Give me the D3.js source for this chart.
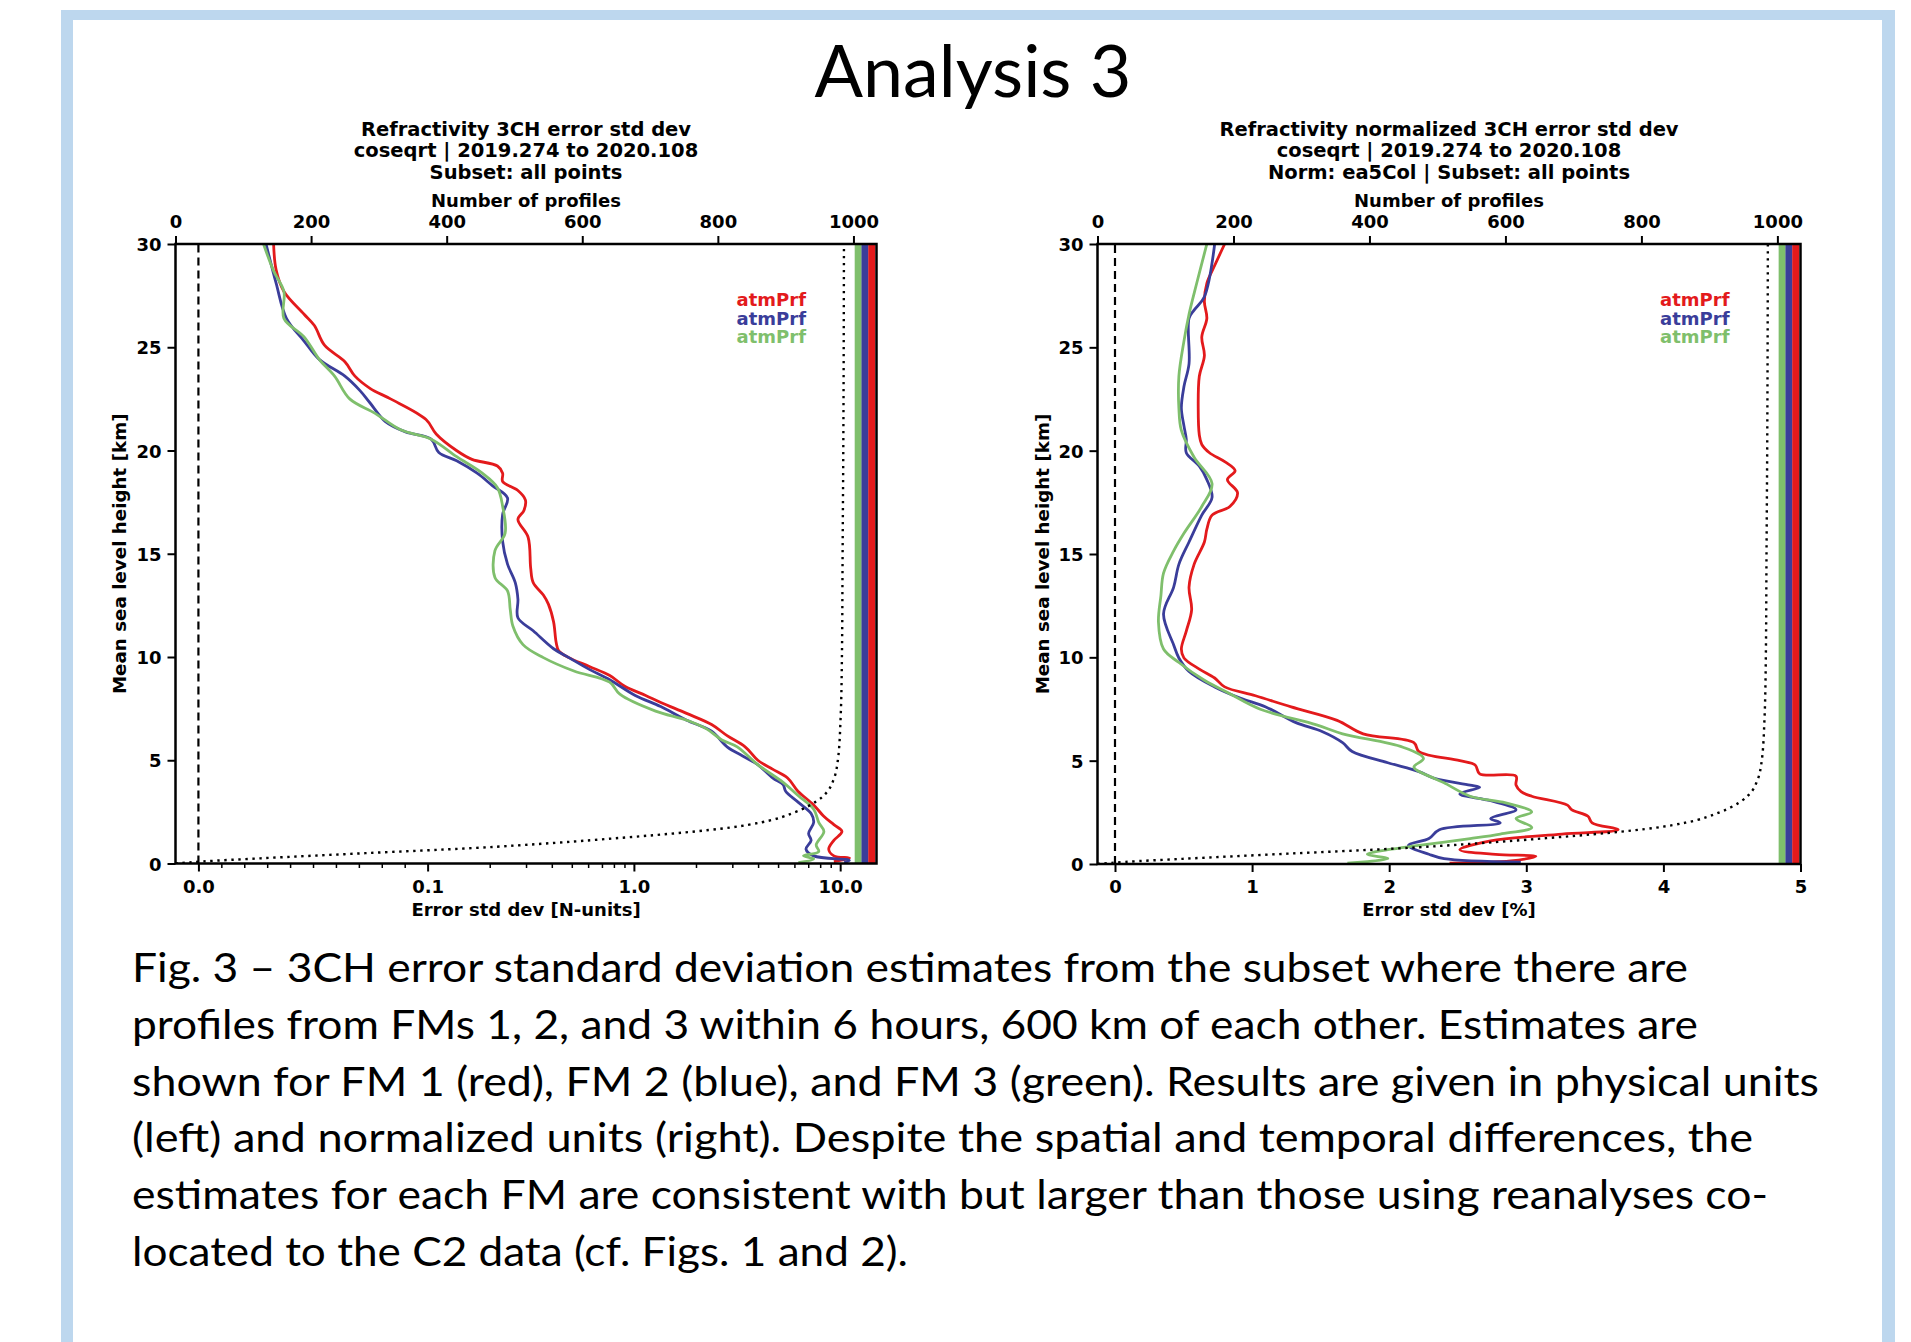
<!DOCTYPE html>
<html><head><meta charset="utf-8">
<script src="https://cdn.jsdelivr.net/npm/d3@7"></script>
<style>html,body{margin:0;padding:0;background:#fff;} svg{display:block;}</style>
</head><body>
<svg id="c" width="1911" height="1342"></svg>
<script>
// ---------------- DATA ----------------
const seriesNames = ["atmPrf", "atmPrf", "atmPrf"];   // FM1 (red), FM2 (blue), FM3 (green)
const yTicks = [0, 5, 10, 15, 20, 25, 30];
const profTicks = [0, 200, 400, 600, 800, 1000];
const leftXTicks = [0, 0.1, 1, 10];
const leftXTickLabels = ["0.0", "0.1", "1.0", "10.0"];
const leftXMinorTicks = [0.01,0.02,0.03,0.04,0.05,0.06,0.07,0.08,0.09,0.2,0.3,0.4,0.5,0.6,0.7,0.8,0.9,2,3,4,5,6,7,8,9];
const rightXTicks = [0, 1, 2, 3, 4, 5];

// Left panel: error std dev [N-units]
const leftRedH = [30,28.75,27.7,26.6,26.05,25.1,24.3,23.6,23.0,22.5,21.5,20.8,20.0,19.57,19.25,18.9,18.5,18.06,17.6,17.1,16.66,15.8,14.3,13.6,13.0,12.56,11.7,10.7,10.3,9.97,9.54,9.1,8.57,8.14,7.8,7.27,6.73,6.19,5.65,5.0,4.57,4.14,3.5,2.85,2.3,1.88,1.55,1.12,0.69,0.37,0.26,0.09];
const leftRedV = [0.0328,0.0339,0.0373,0.0461,0.0506,0.055,0.0639,0.0683,0.075,0.0838,0.0993,0.110,0.138,0.164,0.218,0.231,0.231,0.274,0.298,0.293,0.274,0.307,0.316,0.325,0.364,0.385,0.408,0.42,0.432,0.484,0.608,0.764,0.907,1.14,1.35,1.80,2.38,2.83,3.46,3.99,4.7,5.56,6.24,7.42,8.3,9.32,10.2,9.32,8.8,9.32,11.1,9.32];
const leftBlueH = [30,28.1,26.4,25.3,24.4,23.6,22.9,22.3,21.4,20.9,20.55,19.9,19.5,18.9,18.3,17.7,16.9,15.6,14.5,13.6,12.8,11.9,11.27,10.4,9.97,9.4,8.9,8.14,7.6,6.95,6.41,5.65,5.22,4.79,4.14,3.82,3.5,2.96,2.42,1.99,1.45,1.12,0.69,0.37,0.15,0.04];
const leftBlueV = [0.0295,0.0339,0.0384,0.0461,0.0528,0.0639,0.0705,0.0749,0.0816,0.0904,0.104,0.1133,0.1383,0.1738,0.206,0.244,0.231,0.231,0.244,0.266,0.274,0.274,0.325,0.408,0.484,0.608,0.763,1.015,1.349,1.792,2.38,2.83,3.35,3.98,4.72,5.29,5.44,6.27,7.23,7.44,7.03,7.23,6.83,7.44,11.08,10.46];
const leftGreenH = [30,28.7,27.7,26.4,25.5,24.4,23.6,22.5,21.8,21.0,20.55,19.7,18.9,18.2,17.3,16.0,15.15,13.85,13.2,12.3,11.5,10.6,9.97,9.32,8.78,8.2,7.38,6.95,6.52,5.98,5.65,4.79,3.93,3.28,2.63,1.99,1.55,0.9,0.58,0.37,0.22,0.04];
const leftGreenV = [0.0284,0.0328,0.0373,0.0373,0.0461,0.0528,0.0594,0.066,0.0771,0.0882,0.104,0.1383,0.184,0.218,0.231,0.2375,0.212,0.212,0.244,0.2515,0.259,0.29,0.364,0.512,0.763,0.855,1.274,1.792,2.25,2.67,3.17,3.98,5.29,6.27,7.44,7.87,8.34,7.65,7.87,6.64,7.44,6.27];

// Right panel: normalized error std dev [%]
const rightRedH = [30,28.96,28.1,27.2,26.4,25.5,24.6,23.6,22.06,20.76,20.3,19.9,19.47,19.03,18.6,17.96,17.3,16.88,16.2,15.58,14.5,13.4,12.3,11.27,10.4,9.97,9.43,9.0,8.57,8.14,7.6,6.95,6.3,5.87,5.44,5.0,4.79,4.36,4.25,3.82,3.5,3.28,2.85,2.63,2.31,1.99,1.66,1.45,1.12,0.69,0.47,0.37,0.15,0.04];
const rightRedV = [0.80,0.727,0.67,0.652,0.67,0.633,0.652,0.615,0.607,0.615,0.633,0.689,0.80,0.876,0.82,0.894,0.838,0.708,0.67,0.652,0.577,0.54,0.559,0.52,0.484,0.503,0.615,0.727,0.80,1.025,1.285,1.62,1.81,2.18,2.217,2.515,2.627,2.66,2.925,2.925,2.962,3.04,3.3,3.33,3.45,3.48,3.67,3.26,2.74,2.515,2.776,3.07,2.887,2.44];
const rightBlueH = [30,27.45,26.8,26.4,24.2,23.1,22.06,21.2,20.55,19.9,19.25,18.6,17.74,16.88,15.58,14.5,13.4,12.1,10.6,9.97,9.32,8.57,8.03,7.6,6.84,6.41,5.87,5.44,4.9,4.47,4.14,3.82,3.71,3.39,3.06,2.63,2.2,1.99,1.66,1.23,0.9,0.47,0.26,0.09];
const rightBlueV = [0.727,0.652,0.577,0.54,0.54,0.503,0.484,0.503,0.52,0.52,0.615,0.67,0.708,0.633,0.54,0.466,0.428,0.354,0.428,0.466,0.54,0.727,0.913,1.10,1.32,1.51,1.66,1.73,1.99,2.217,2.33,2.59,2.66,2.515,2.74,2.925,2.74,2.81,2.366,2.29,2.14,2.29,2.40,2.96];
const rightGreenH = [30,28.1,26.6,25.3,23.6,22.06,20.98,19.68,18.4,17.3,16.0,15.15,14.07,12.99,11.7,10.4,9.75,8.89,8.24,7.49,6.73,6.3,5.65,5.11,4.68,4.14,3.93,3.28,2.96,2.52,2.2,1.77,1.45,1.23,0.9,0.69,0.47,0.26,0.04];
const rightGreenV = [0.67,0.596,0.54,0.503,0.466,0.466,0.484,0.577,0.708,0.633,0.503,0.428,0.354,0.335,0.317,0.354,0.466,0.652,0.838,1.06,1.47,1.66,2.1,2.25,2.18,2.33,2.40,2.59,2.85,3.04,2.925,3.04,2.81,2.59,2.217,1.99,1.84,1.99,1.695];

// Number of profiles (common subset, dotted) vs height
const profHeights = [0,0.1,0.25,0.5,0.75,1.0,1.25,1.5,1.75,2.0,2.5,3.0,3.5,4.0,5.0,7.0,10,15,20,30];
const profCounts  = [0,40,125,280,440,560,660,750,820,865,915,945,962,970,977,981,983,984,985,986];
// Number of profiles per FM (red, blue, green)
const fmCounts = [1027, 1017, 1007];

const captionLines = [
  "Fig. 3 \u2013 3CH error standard deviation estimates from the subset where there are",
  "profiles from FMs 1, 2, and 3 within 6 hours, 600 km of each other. Estimates are",
  "shown for FM 1 (red), FM 2 (blue), and FM 3 (green). Results are given in physical units",
  "(left) and normalized units (right). Despite the spatial and temporal differences, the",
  "estimates for each FM are consistent with but larger than those using reanalyses co-",
  "located to the C2 data (cf. Figs. 1 and 2)."
];

// ---------------- STYLE / LAYOUT ----------------
const COLORS = ["#e31a1c", "#3a3d9a", "#7fbf6c"];
const FONT = "'DejaVu Sans', sans-serif";
const svg = d3.select("#c");

// frame
const frameColor = "#bdd7ee";
svg.append("rect").attr("x", 61).attr("y", 10).attr("width", 1834).attr("height", 10).attr("fill", frameColor);
svg.append("rect").attr("x", 61).attr("y", 10).attr("width", 12).attr("height", 1332).attr("fill", frameColor);
svg.append("rect").attr("x", 1882).attr("y", 10).attr("width", 13).attr("height", 1332).attr("fill", frameColor);

svg.append("text").attr("x", 973).attr("y", 97).attr("text-anchor", "middle")
  .attr("font-family", "Lato, 'Open Sans', sans-serif").attr("font-size", 72)
  .attr("textLength", 317).attr("lengthAdjust", "spacingAndGlyphs")
  .text("Analysis 3");

const capWidths = [1556, 1566, 1687, 1621, 1636, 776];
captionLines.forEach((t, i) => {
  svg.append("text").attr("x", 132).attr("y", 982 + i * 56.8)
    .attr("font-family", "Lato, 'Open Sans', sans-serif").attr("font-size", 41)
    .attr("textLength", capWidths[i]).attr("lengthAdjust", "spacingAndGlyphs")
    .text(t);
});

// custom matplotlib-like symlog scale (linthresh, linscale) built on d3.scaleLinear
function makeSymlog(domain, range, linthresh, linscale) {
  const adj = linscale / (1 - 1 / 10);
  const T = v => { const a = Math.abs(v); return a <= linthresh ? v / linthresh * adj : Math.sign(v) * (adj + Math.log10(a / linthresh)); };
  const lin = d3.scaleLinear().domain(domain.map(T)).range(range);
  function s(v) { return lin(T(v)); }
  s.domain = () => domain.slice();
  s.range = () => range.slice();
  s.copy = () => makeSymlog(domain, range, linthresh, linscale);
  return s;
}

function styleAxis(g, size) {
  g.select(".domain").remove();
  g.selectAll(".tick line").attr("stroke", "#000").attr("stroke-width", size || 2);
  g.selectAll(".tick text").attr("fill", "#000").attr("font-family", FONT)
    .attr("font-weight", "bold").attr("font-size", 18);
}

function drawPanel(p) {
  const g = svg.append("g");
  const y = d3.scaleLinear().domain([0, 30]).range([p.y1, p.y0]);
  const xTop = d3.scaleLinear().domain([0, 1034]).range([p.x0, p.x1]);
  const x = p.x;
  const clipId = "clip" + p.id;
  svg.append("clipPath").attr("id", clipId).append("rect")
    .attr("x", p.x0).attr("y", p.y0).attr("width", p.x1 - p.x0).attr("height", p.y1 - p.y0);
  const plot = g.append("g").attr("clip-path", `url(#${clipId})`);

  // zero dashed line
  plot.append("line").attr("x1", x(0)).attr("x2", x(0)).attr("y1", y(0)).attr("y2", y(30))
    .attr("stroke", "#000").attr("stroke-width", 2.2).attr("stroke-dasharray", "8,5");

  // error std dev curves
  const line = d3.line().x(d => x(d[1])).y(d => y(d[0])).curve(d3.curveCatmullRom.alpha(0.5));
  p.series.forEach((s, i) => {
    plot.append("path").datum(d3.zip(s[0], s[1])).attr("d", line)
      .attr("fill", "none").attr("stroke", COLORS[i]).attr("stroke-width", 2.8)
      .attr("stroke-linejoin", "round");
  });

  // number of profiles (twin axis)
  const pline = d3.line().x(d => xTop(d[1])).y(d => y(d[0])).curve(d3.curveMonotoneY);
  plot.append("path").datum(d3.zip(profHeights, profCounts)).attr("d", pline)
    .attr("fill", "none").attr("stroke", "#000").attr("stroke-width", 2.4)
    .attr("stroke-dasharray", "2.4,4.6");
  [2, 1, 0].forEach(i => {
    plot.append("line").attr("x1", xTop(fmCounts[i])).attr("x2", xTop(fmCounts[i]))
      .attr("y1", y(0)).attr("y2", y(30)).attr("stroke", COLORS[i]).attr("stroke-width", 7);
  });

  // legend
  seriesNames.forEach((n, i) => {
    g.append("text").attr("x", p.legendX).attr("y", [299.7, 318.4, 336.7][i])
      .attr("text-anchor", "end").attr("dominant-baseline", "central")
      .attr("font-family", FONT).attr("font-weight", "bold").attr("font-size", 18)
      .attr("fill", COLORS[i]).text(n);
  });

  // axes
  const ay = g.append("g").attr("transform", `translate(${p.x0},0)`)
    .call(d3.axisLeft(y).tickValues(yTicks).tickSize(8).tickPadding(6));
  styleAxis(ay);
  ay.selectAll(".tick text").attr("dy", null).attr("dominant-baseline", "central");

  const at = g.append("g").attr("transform", `translate(0,${p.y0})`)
    .call(d3.axisTop(xTop).tickValues(profTicks).tickSize(8).tickFormat(d3.format("d")));
  styleAxis(at);
  at.selectAll(".tick text").attr("y", -22.3).attr("dy", null).attr("dominant-baseline", "central");

  const ab = g.append("g").attr("transform", `translate(0,${p.y1})`)
    .call(d3.axisBottom(x).tickValues(p.xTicks).tickSize(8).tickFormat((d, i) => p.xTickLabels[i]));
  styleAxis(ab);
  ab.selectAll(".tick text").attr("y", 22.5).attr("dy", null).attr("dominant-baseline", "central");

  if (p.minor) {
    const am = g.append("g").attr("transform", `translate(0,${p.y1})`)
      .call(d3.axisBottom(x).tickValues(p.minor).tickSize(4.5).tickFormat(""));
    styleAxis(am, 1.5);
  }

  // spines
  g.append("rect").attr("x", p.x0).attr("y", p.y0).attr("width", p.x1 - p.x0).attr("height", p.y1 - p.y0)
    .attr("fill", "none").attr("stroke", "#000").attr("stroke-width", 2.5);

  // labels and titles
  const cx = (p.x0 + p.x1) / 2;
  p.title.forEach((t, i) => {
    g.append("text").attr("x", cx).attr("y", [129.3, 150.9, 172.7][i]).attr("text-anchor", "middle")
      .attr("dominant-baseline", "central").attr("font-family", FONT).attr("font-weight", "bold")
      .attr("font-size", 19.5).text(t);
  });
  g.append("text").attr("x", cx).attr("y", 200.7).attr("text-anchor", "middle")
    .attr("dominant-baseline", "central").attr("font-family", FONT).attr("font-weight", "bold")
    .attr("font-size", 18).text("Number of profiles");
  g.append("text").attr("x", cx).attr("y", 909).attr("text-anchor", "middle")
    .attr("dominant-baseline", "central").attr("font-family", FONT).attr("font-weight", "bold")
    .attr("font-size", 18).text(p.xLabel);
  g.append("text").attr("transform", `translate(${p.yLabelX},${(p.y0 + p.y1) / 2}) rotate(-90)`)
    .attr("text-anchor", "middle").attr("dominant-baseline", "central").attr("font-family", FONT)
    .attr("font-weight", "bold").attr("font-size", 18.3).text("Mean sea level height [km]");
}

const L = { id: "L", x0: 175.5, x1: 876.5, y0: 244, y1: 863.5 };
L.x = makeSymlog([-0.01, 15], [L.x0, L.x1], 0.1, 1);
Object.assign(L, {
  series: [[leftRedH, leftRedV], [leftBlueH, leftBlueV], [leftGreenH, leftGreenV]],
  xTicks: leftXTicks, xTickLabels: leftXTickLabels, minor: leftXMinorTicks,
  legendX: 806, yLabelX: 119.5, xLabel: "Error std dev [N-units]",
  title: ["Refractivity 3CH error std dev", "coseqrt | 2019.274 to 2020.108", "Subset: all points"]
});
drawPanel(L);

const R = { id: "R", x0: 1097.5, x1: 1800.5, y0: 244, y1: 864 };
R.x = d3.scaleLinear().domain([-0.1276, 5]).range([R.x0, R.x1]);
Object.assign(R, {
  series: [[rightRedH, rightRedV], [rightBlueH, rightBlueV], [rightGreenH, rightGreenV]],
  xTicks: rightXTicks, xTickLabels: rightXTicks.map(String), minor: null,
  legendX: 1729.5, yLabelX: 1042, xLabel: "Error std dev [%]",
  title: ["Refractivity normalized 3CH error std dev", "coseqrt | 2019.274 to 2020.108", "Norm: ea5Col | Subset: all points"]
});
drawPanel(R);
</script>
</body></html>
